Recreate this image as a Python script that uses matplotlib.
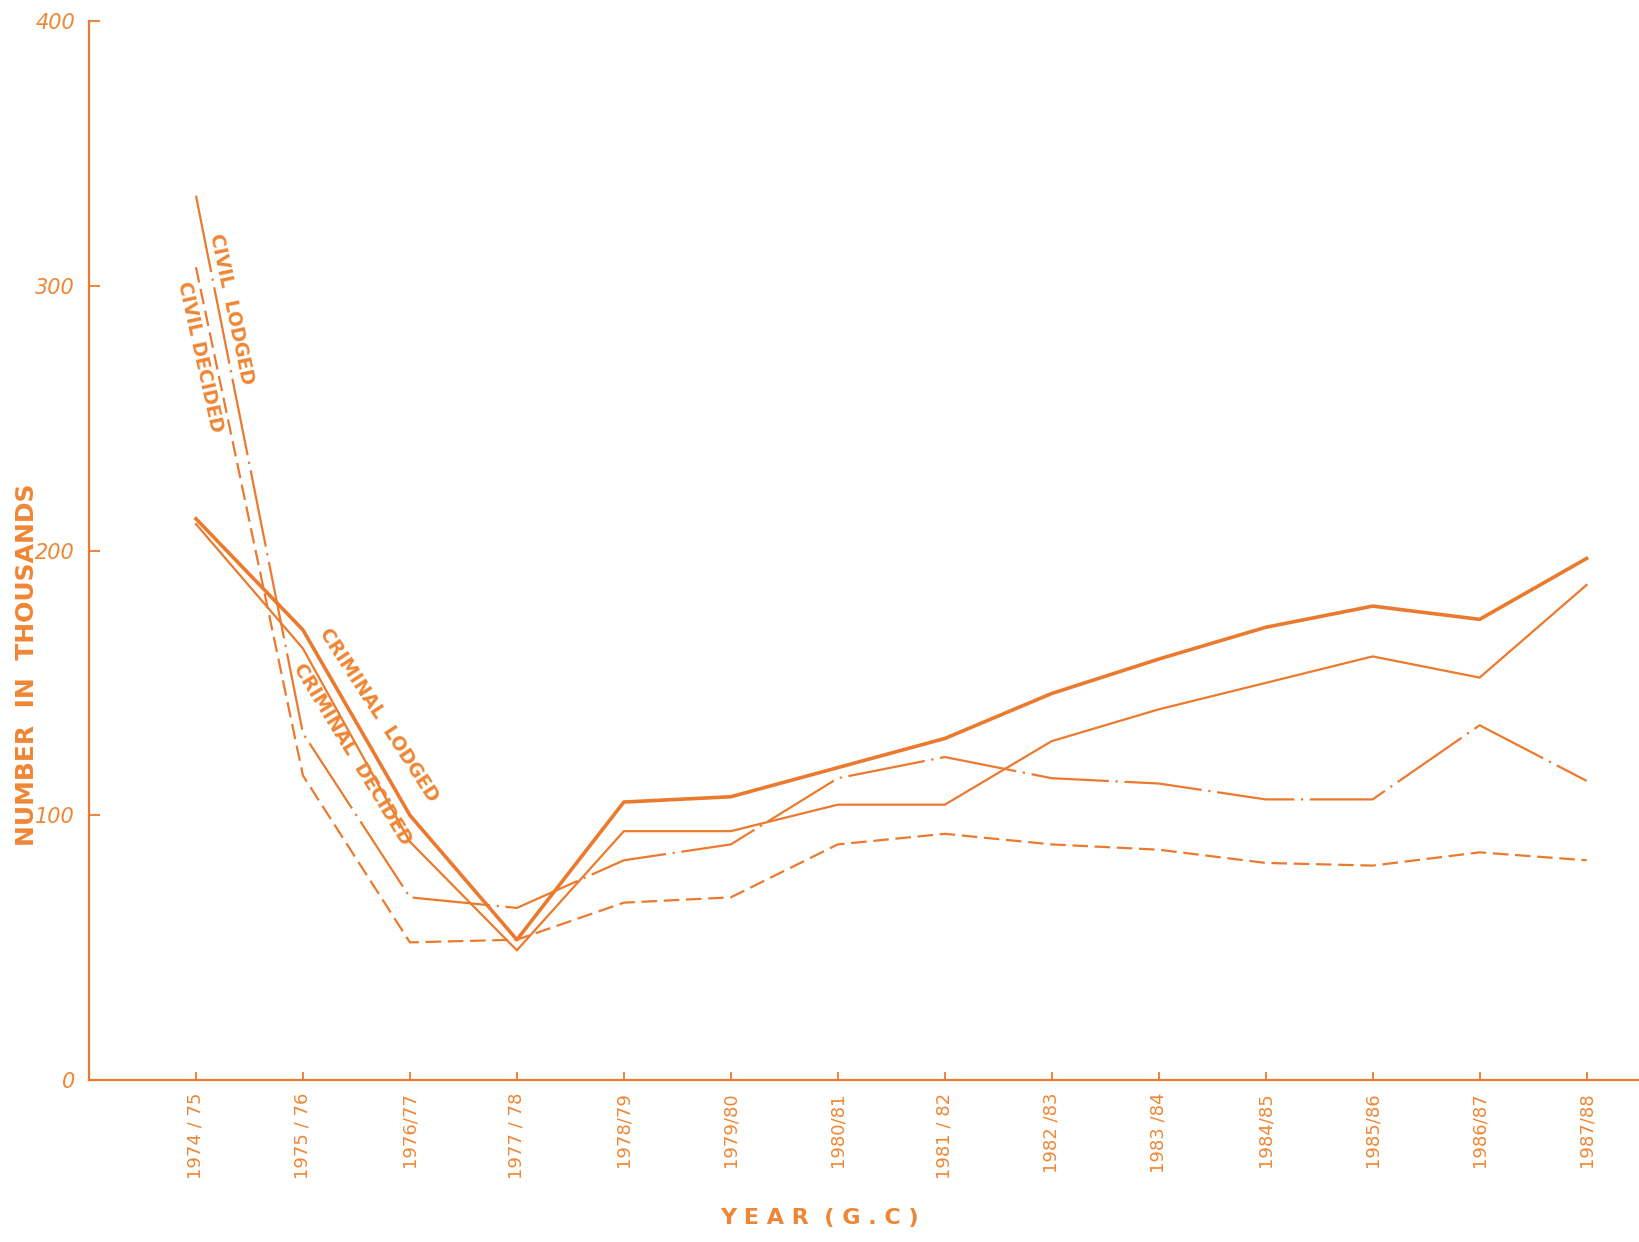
import matplotlib.pyplot as plt

# cases lodged / decided in thousands
years = ["1974 / 75", "1975 / 76", "1976/77", "1977 / 78", "1978/79", "1979/80", "1980/81",
         "1981 / 82", "1982 /83", "1983 /84", "1984/85", "1985/86", "1986/87", "1987/88"]

criminal_lodged = [212, 170, 100, 53, 105, 107, 118, 129, 146, 159, 171, 179, 174, 197]
criminal_decided = [210, 163, 90, 49, 94, 94, 104, 104, 128, 140, 150, 160, 152, 187]
civil_lodged = [334, 131, 69, 65, 83, 89, 114, 122, 114, 112, 106, 106, 134, 113]
civil_decided = [307, 115, 52, 53, 67, 69, 89, 93, 89, 87, 82, 81, 86, 83]

line_col = "#EB7A2E"
text_col = "#EF8635"

fig = plt.figure(figsize=(16.39, 12.42), dpi=100)
ax = fig.add_axes([0.0543, 0.1304, 0.9457, 0.8527])

x = list(range(len(years)))

ax.plot(x, criminal_lodged, color=line_col, lw=2.6)
ax.plot(x, criminal_decided, color=line_col, lw=1.6)
ax.plot(x, civil_lodged, color=line_col, lw=1.6, linestyle=(0, (35, 3, 1, 3)))
ax.plot(x, civil_decided, color=line_col, lw=1.6, linestyle=(0, (7, 3)))

# labels along the lines
lab = dict(color=text_col, fontsize=13.5, fontweight="bold", ha="center", va="center",
           rotation_mode="anchor")
ax.text(0.33, 291, "CIVIL  LODGED", rotation=-78, **lab)
ax.text(0.04, 273, "CIVIL DECIDED", rotation=-77.5, **lab)
ax.text(1.71, 138, "CRIMINAL  LODGED", rotation=-57, **lab)
ax.text(1.46, 123, "CRIMINAL  DECIDED", rotation=-58.5, **lab)

ax.set_xlim(-1, 13.49)
ax.set_ylim(0, 400)
ax.set_xticks(x)
ax.set_xticklabels(years, rotation=90, fontsize=13, color=text_col)
ax.set_yticks([0, 100, 200, 300, 400])
ax.set_yticklabels(["0", "100", "200", "300", "400"], fontsize=15, style="italic", color=text_col)

ax.tick_params(axis="x", direction="in", length=6, width=1.3, color=line_col, pad=9)
ax.tick_params(axis="y", direction="in", length=8, width=1.3, color=line_col, pad=10)

for s in ["top", "right"]:
    ax.spines[s].set_visible(False)
for s in ["left", "bottom"]:
    ax.spines[s].set_color(line_col)
    ax.spines[s].set_linewidth(1.6)

fig.text(0.0165, 0.465, "NUMBER  IN  THOUSANDS", rotation=90, fontsize=18, fontweight="bold",
         color=text_col, ha="center", va="center")
fig.text(0.50, 0.011, "Y E A R  ( G . C )", fontsize=16, fontweight="bold",
         color=text_col, ha="center", va="bottom")

fig.savefig("out.png", dpi=100, facecolor="white")
